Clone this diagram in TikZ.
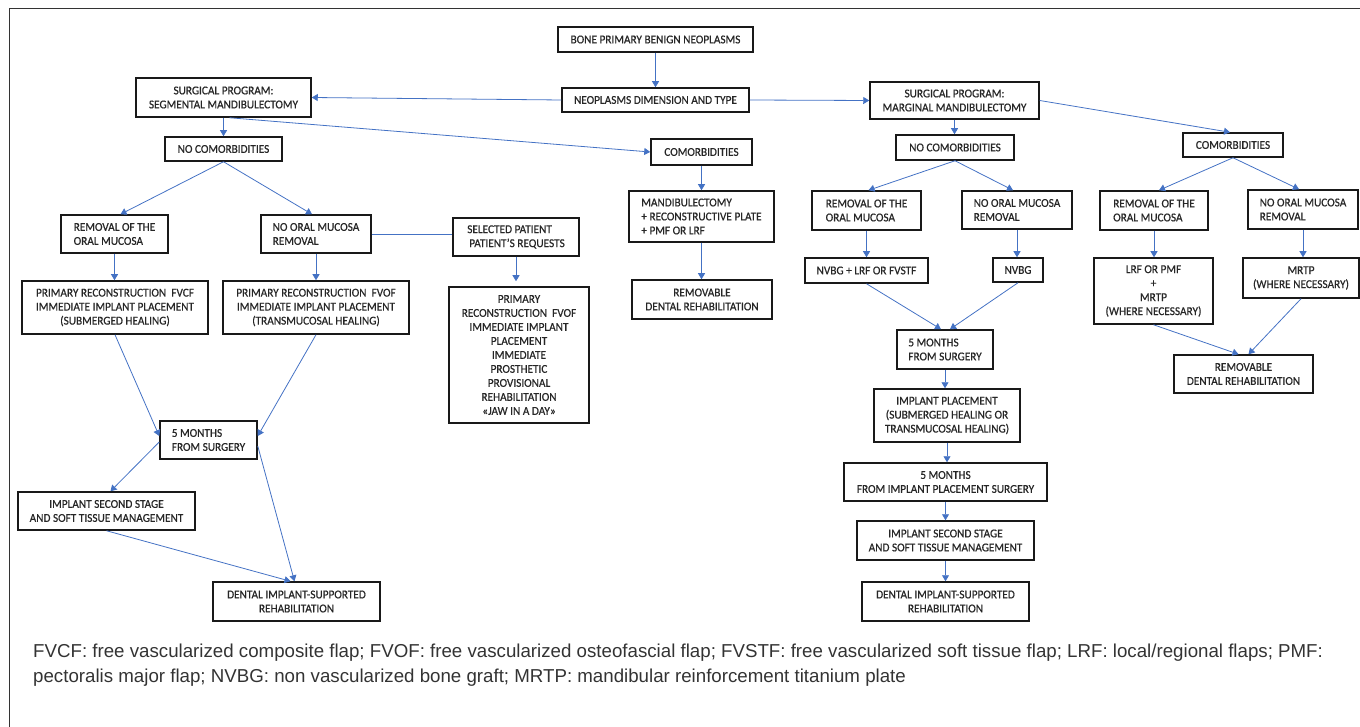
\documentclass[tikz,border=0pt]{standalone}
\usepackage{fontspec}
\setmainfont{Carlito}[FakeBold=0.6, FakeStretch=0.94]
\newfontfamily\notefont{Liberation Sans}
\usetikzlibrary{arrows.meta,calc}
\definecolor{linkblue}{RGB}{68,114,196}
\tikzset{
  box/.style={draw=black!90, line width=1.5pt, inner sep=2pt,
    font=\fontsize{12}{14}\selectfont, text=black!85},
  link/.style={draw=linkblue, line width=0.8pt, -{Triangle[width=7pt,length=6pt]}},
  plain/.style={draw=linkblue, line width=0.8pt},
}
\begin{document}
\begin{tikzpicture}[x=1pt,y=-1pt]
  \useasboundingbox (0,0) rectangle (1360,727);
  \draw[line width=1pt, black!80] (9,727) -- (9,9) -- (1360,9);

  % top of the tree
  \node[box, minimum width=195pt, minimum height=25pt] (bone) at (655.5,39.5) {BONE PRIMARY BENIGN NEOPLASMS};
  \node[box, minimum width=187pt, minimum height=24pt] (dim) at (655.5,100) {NEOPLASMS DIMENSION AND TYPE};
  \node[box, minimum width=175pt, minimum height=39pt, align=center] (segm) at (223.5,97.5) {SURGICAL PROGRAM:\\SEGMENTAL MANDIBULECTOMY};
  \node[box, minimum width=169pt, minimum height=37pt, align=center] (marg) at (954.5,100.5) {SURGICAL PROGRAM:\\MARGINAL MANDIBULECTOMY};

  % segmental branch
  \node[box, minimum width=117pt, minimum height=24pt] (nocomL) at (223.5,149) {NO COMORBIDITIES};
  \node[box, minimum width=107pt, minimum height=38pt, align=left] (remL) at (114.5,234) {REMOVAL OF THE\\ORAL MUCOSA};
  \node[box, minimum width=110pt, minimum height=38pt, align=left] (noremL) at (316,234) {NO ORAL MUCOSA\\REMOVAL};
  \node[box, minimum width=126pt, minimum height=38pt, align=left] (selpat) at (516,237) {SELECTED PATIENT\\\hspace{2pt}PATIENT'S REQUESTS};
  \node[box, minimum width=186pt, minimum height=53pt, align=center] (fvcf) at (115,307.5) {PRIMARY RECONSTRUCTION\ \ FVCF\\IMMEDIATE IMPLANT PLACEMENT\\(SUBMERGED HEALING)};
  \node[box, minimum width=186pt, minimum height=53pt, align=center] (fvof) at (316,307.5) {PRIMARY RECONSTRUCTION\ \ FVOF\\IMMEDIATE IMPLANT PLACEMENT\\(TRANSMUCOSAL HEALING)};
  \node[box, minimum width=140pt, minimum height=136pt, align=center] (jaw) at (519,355) {PRIMARY\\RECONSTRUCTION\ \ FVOF\\IMMEDIATE IMPLANT\\PLACEMENT\\IMMEDIATE\\PROSTHETIC\\PROVISIONAL\\REHABILITATION\\«JAW IN A DAY»};
  \node[box, minimum width=97pt, minimum height=38pt, align=left] (fiveL) at (208.5,440) {5 MONTHS\\FROM SURGERY};
  \node[box, minimum width=177pt, minimum height=38pt, align=center] (secondL) at (106.5,511) {IMPLANT SECOND STAGE\\AND SOFT TISSUE MANAGEMENT};
  \node[box, minimum width=167pt, minimum height=39pt, align=center] (dentL) at (296.5,601.5) {DENTAL IMPLANT-SUPPORTED\\REHABILITATION};

  % comorbidities, segmental
  \node[box, minimum width=101pt, minimum height=26pt] (comM) at (701.5,152) {COMORBIDITIES};
  \node[box, minimum width=145pt, minimum height=51pt, align=left] (mand) at (701.5,216.5) {MANDIBULECTOMY\\+ RECONSTRUCTIVE PLATE\\+ PMF OR LRF};
  \node[box, minimum width=140pt, minimum height=39pt, align=center] (remov) at (702,299.5) {REMOVABLE\\DENTAL REHABILITATION};

  % marginal branch
  \node[box, minimum width=118pt, minimum height=25pt] (nocomR) at (955,147.5) {NO COMORBIDITIES};
  \node[box, minimum width=109pt, minimum height=39pt, align=left] (remR) at (866.5,210.5) {REMOVAL OF THE\\ORAL MUCOSA};
  \node[box, minimum width=110pt, minimum height=38pt, align=left] (noremR) at (1017,210) {NO ORAL MUCOSA\\REMOVAL};
  \node[box, minimum width=123pt, minimum height=25pt] (nvbgl) at (866.5,270.5) {NVBG + LRF OR FVSTF};
  \node[box, minimum width=50pt, minimum height=24pt] (nvbg) at (1018,270) {NVBG};
  \node[box, minimum width=96pt, minimum height=39pt, align=left] (fiveR) at (945,349.5) {5 MONTHS\\FROM SURGERY};
  \node[box, minimum width=146pt, minimum height=53pt, align=center] (implR) at (947,415.5) {IMPLANT PLACEMENT\\(SUBMERGED HEALING OR\\TRANSMUCOSAL HEALING)};
  \node[box, minimum width=203pt, minimum height=38pt, align=center] (fiveimpl) at (945.5,482) {5 MONTHS\\FROM IMPLANT PLACEMENT SURGERY};
  \node[box, minimum width=177pt, minimum height=39pt, align=center] (secondR) at (945.5,540.5) {IMPLANT SECOND STAGE\\AND SOFT TISSUE MANAGEMENT};
  \node[box, minimum width=167pt, minimum height=39pt, align=center] (dentR) at (945.5,601.5) {DENTAL IMPLANT-SUPPORTED\\REHABILITATION};

  % comorbidities, marginal
  \node[box, minimum width=100pt, minimum height=24pt] (comR) at (1233,145) {COMORBIDITIES};
  \node[box, minimum width=108pt, minimum height=39pt, align=left] (remR2) at (1154,210.5) {REMOVAL OF THE\\ORAL MUCOSA};
  \node[box, minimum width=110pt, minimum height=39pt, align=left] (noremR2) at (1303,209.5) {NO ORAL MUCOSA\\REMOVAL};
  \node[box, minimum width=119pt, minimum height=66pt, align=center] (lrf) at (1153.5,291) {LRF OR PMF\\+\\MRTP\\(WHERE NECESSARY)};
  \node[box, minimum width=116pt, minimum height=40pt, align=center] (mrtp) at (1301,278) {MRTP\\(WHERE NECESSARY)};
  \node[box, minimum width=139pt, minimum height=38pt, align=center] (removR) at (1243.5,374) {REMOVABLE\\DENTAL REHABILITATION};

  % straight arrows
  \foreach \a/\b in {bone/dim, segm/nocomL, comM/mand, mand/remov, marg/nocomR,
      fiveimpl/secondR, secondR/dentR}
    \draw[link] (\a.south) -- (\a.south |- \b.north);
  \foreach \a/\b in {remL/fvcf, noremL/fvof, remR/nvbgl, noremR/nvbg,
      fiveR/implR, implR/fiveimpl, remR2/lrf, noremR2/mrtp}
    \draw[link] (\a.south) -- (\a.south |- \b.north);
  \draw[link] (selpat.south) -- ($(selpat.south |- jaw.north)+(0,-5)$);

  % sideways arrows
  \draw[link] (dim.west) -- (segm.east);
  \draw[link] (dim.east) -- (marg.west);
  \draw[link] ($(segm.south)+(6,0)$) -- (comM.west);
  \draw[link] (marg.east) -- ($(comR.north)+(-3,0)$);
  \draw[link] (nocomL.south) -- ($(remL.north)+(6,0)$);
  \draw[link] (nocomL.south) -- ($(noremL.north)+(-4,0)$);
  \draw[plain] (noremL.east) -- (noremL.east -| selpat.west);
  \draw[link] (fvcf.south) -- ($(fiveL.west)+(0,-4)$);
  \draw[link] (fvof.south) -- ($(fiveL.east)+(0,-4)$);
  \draw[link] ($(fiveL.west)+(0,2)$) -- ($(secondL.north)+(4,0)$);
  \draw[link] ($(fiveL.east)+(0,6)$) -- ($(dentL.north)+(-2,0)$);
  \draw[link] (secondL.south) -- ($(dentL.north)+(-6,0)$);
  \draw[link] (nocomR.south) -- ($(remR.north)+(2,0)$);
  \draw[link] (nocomR.south) -- ($(noremR.north)+(-4,0)$);
  \draw[link] (nvbgl.south) -- ($(fiveR.north)+(-4,0)$);
  \draw[link] (nvbg.south) -- ($(fiveR.north)+(5,0)$);
  \draw[link] (comR.south) -- ($(remR2.north)+(5,0)$);
  \draw[link] (comR.south) -- ($(noremR2.north)+(-4,0)$);
  \draw[link] (lrf.south) -- ($(removR.north)+(-5,0)$);
  \draw[link] (mrtp.south) -- ($(removR.north)+(5,0)$);

  % abbreviations
  \node[anchor=base west, align=left, inner sep=0pt, text=black!80,
    font=\notefont\fontsize{18.7}{25}\selectfont] (note) at (33,682)
    {FVCF: free vascularized composite flap; FVOF: free vascularized osteofascial flap; FVSTF: free vascularized soft tissue flap; LRF: local/regional flaps; PMF:\\
     pectoralis major flap; NVBG: non vascularized bone graft; MRTP: mandibular reinforcement titanium plate};
\end{tikzpicture}
\end{document}
